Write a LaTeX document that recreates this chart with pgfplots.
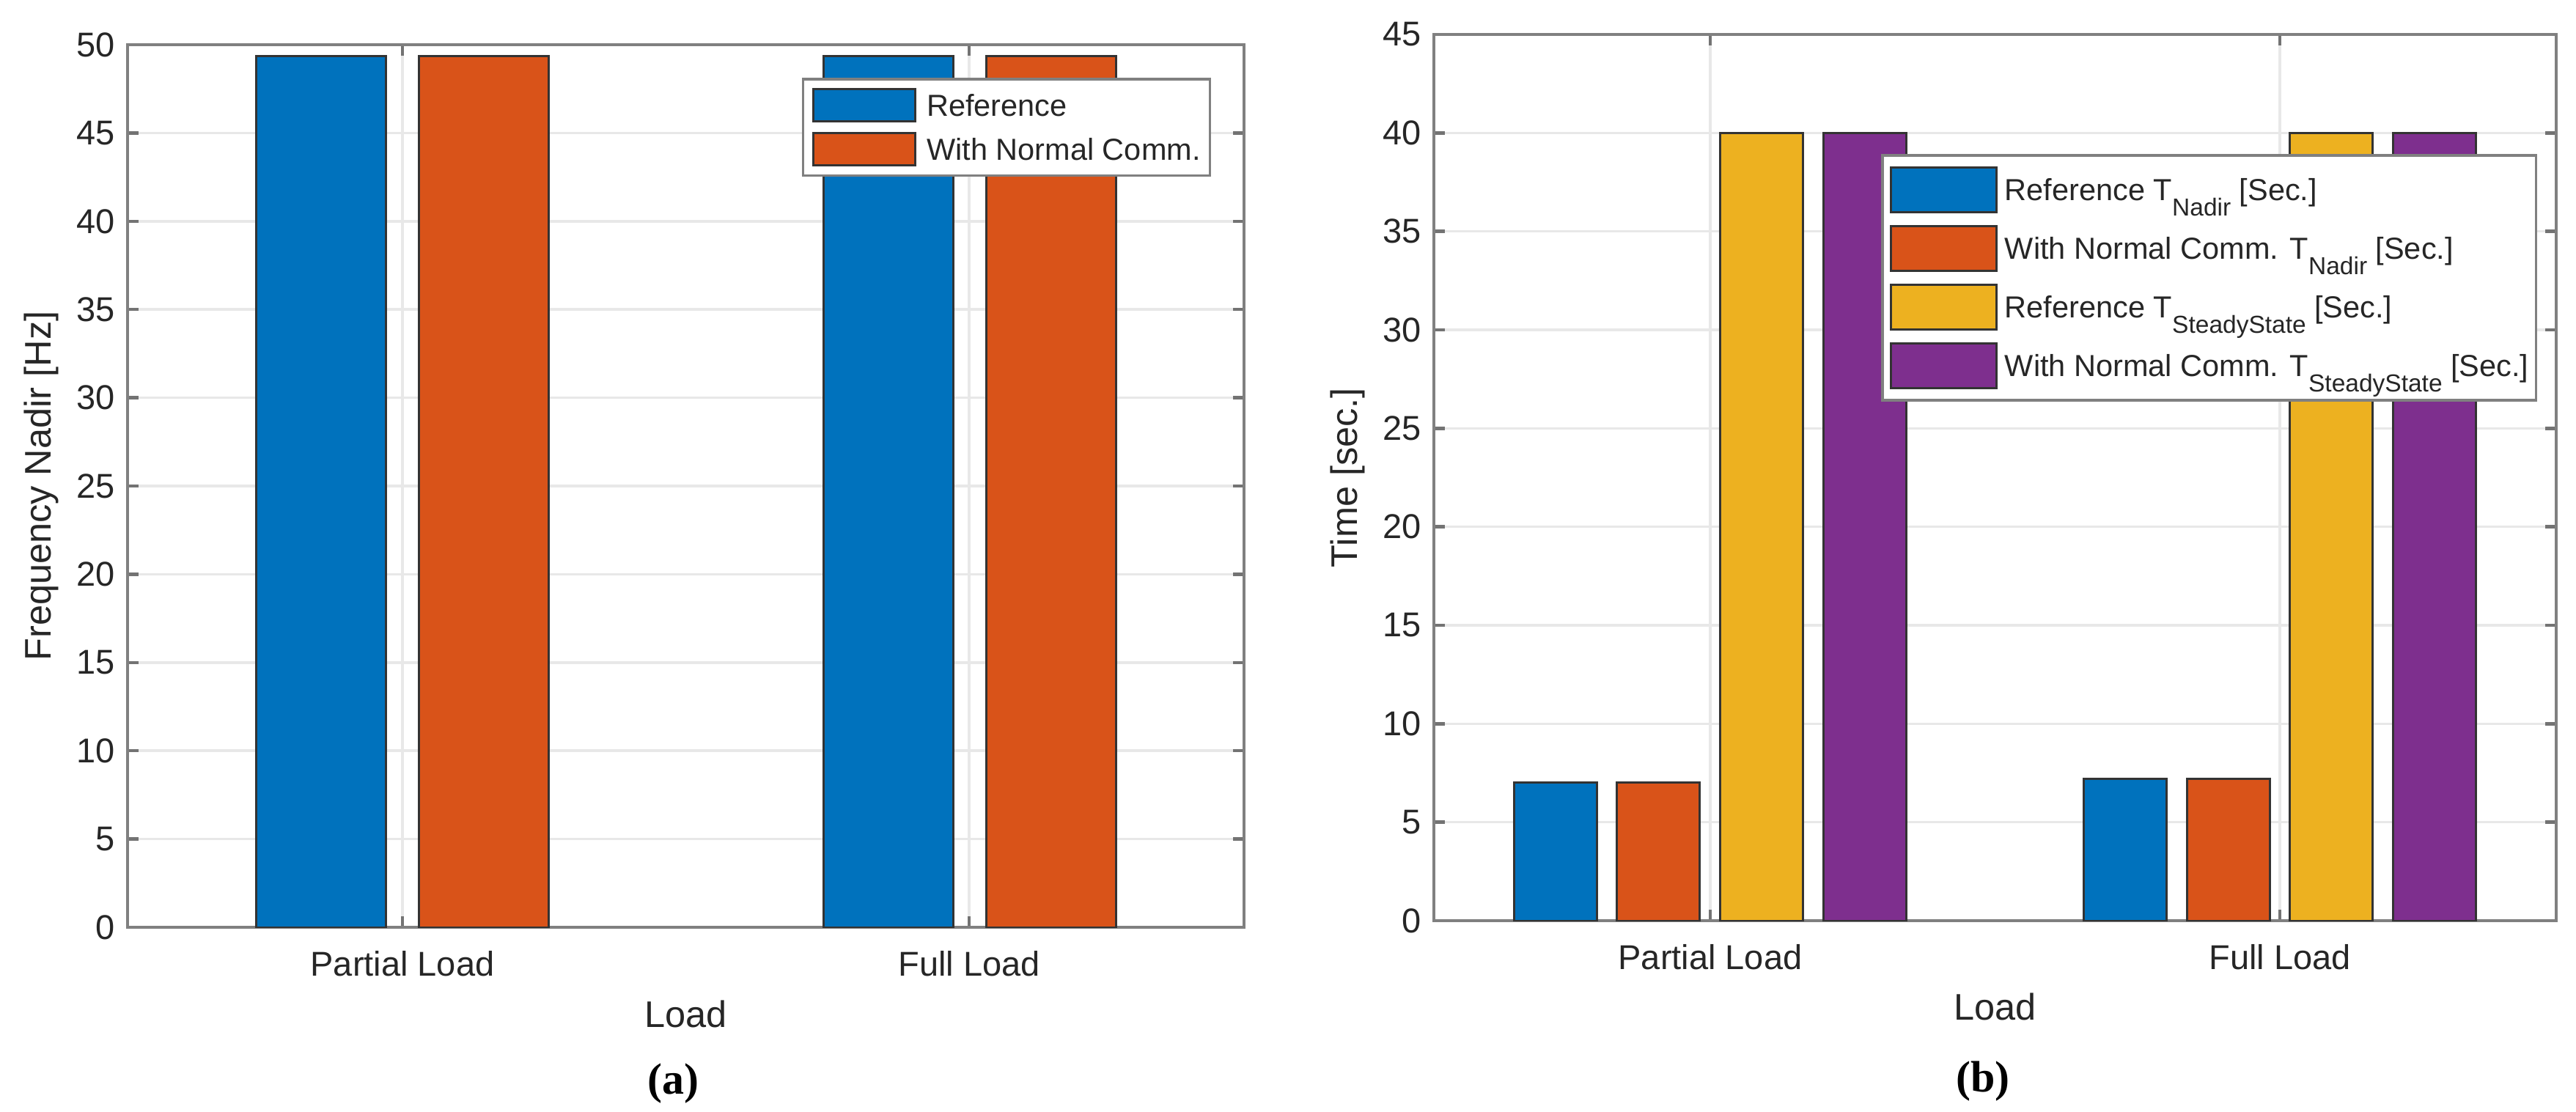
\documentclass[border=0pt]{standalone}
\usepackage{fontspec}
\setmainfont{Liberation Sans}
\newfontfamily\capfont{Liberation Serif}
\usepackage{pgfplots}
\pgfplotsset{compat=1.18}

\definecolor{mblue}{HTML}{0072BD}
\definecolor{morange}{HTML}{D95319}
\definecolor{myellow}{HTML}{EDB120}
\definecolor{mpurple}{HTML}{7E2F8E}
\definecolor{mtext}{HTML}{262626}

\newcommand{\sub}[1]{\raisebox{-4.2pt}{\fontsize{6.7pt}{7pt}\selectfont #1}}

\pgfplotsset{
  mat/.style={
    scale only axis,
    ybar,
    ymin=0,
    xmin=0.515, xmax=2.485,
    xtick={1,2},
    xticklabels={Partial Load, Full Load},
    axis line style={black!50, line width=0.9pt},
    tick style={black!55, line width=0.9pt},
    major tick length=3pt,
    tick align=inside,
    tick pos=both,
    grid=major,
    major grid style={black!9, line width=0.7pt},
    /pgf/number format/assume math mode=true,
    ticklabel style={font=\fontsize{9.4}{11}\selectfont, text=mtext},
    xticklabel style={anchor=base, yshift=-13.3pt},
    label style={font=\fontsize{10.1}{12}\selectfont, text=mtext},
    legend style={draw=black!50, line width=0.7pt, fill=white,
      font=\fontsize{8.3}{10}\selectfont, text=mtext, anchor=north east,
      nodes={inner sep=0pt, text height=5.9pt, text depth=0pt}},
    legend cell align=left,
  },
  swA/.style={legend image code/.code={\draw[#1, line width=0.6pt] (0pt,-4.4pt) rectangle (27.8pt,4.4pt);}},
  swB/.style={legend image code/.code={\draw[#1, line width=0.6pt] (0pt,-6.1pt) rectangle (28.8pt,6.1pt);}},
}

\begin{document}
\begin{tikzpicture}
\useasboundingbox (0,0) rectangle (702.8pt,-303.2pt);

% (a) frequency nadir
\begin{axis}[mat,
  at={(34.8pt,-12.2pt)}, anchor=north west,
  width=304.6pt, height=240.8pt,
  ymax=50, ytick={0,5,...,50},
  bar width=35.4pt,
  xlabel={Load},
  ylabel={Frequency Nadir [Hz]},
  xlabel style={at={(axis description cs:0.5,-0.098)}, anchor=center},
  ylabel style={at={(axis description cs:-0.0775,0.5)}, anchor=center},
  legend style={at={(axis description cs:1,1)}, xshift=-9pt, yshift=-9pt,
    row sep=2.5pt, column sep=2.8pt, inner sep=2.5pt},
]
\addplot[fill=mblue, draw=black!80, line width=0.6pt, bar shift=-22.1pt, swA] coordinates {(1,49.35) (2,49.35)};
\addplot[fill=morange, draw=black!80, line width=0.6pt, bar shift=22.3pt, swA] coordinates {(1,49.35) (2,49.35)};
\legend{Reference, With Normal Comm.}
\end{axis}

% (b) times
\begin{axis}[mat,
  at={(391.2pt,-9.4pt)}, anchor=north west,
  width=306.2pt, height=241.8pt,
  ymax=45, ytick={0,5,...,45},
  bar width=22.6pt,
  xlabel={Load},
  ylabel={Time [sec.]},
  xlabel style={at={(axis description cs:0.5,-0.097)}, anchor=center},
  ylabel style={at={(axis description cs:-0.0771,0.5)}, anchor=center},
  legend style={at={(axis description cs:1,1)}, xshift=-5.2pt, yshift=-32.6pt,
    row sep=3.2pt, column sep=2pt, inner xsep=2pt, inner ysep=3pt},
]
\addplot[fill=mblue, draw=black!80, line width=0.6pt, bar shift=-42.2pt, swB] coordinates {(1,7.0) (2,7.2)};
\addplot[fill=morange, draw=black!80, line width=0.6pt, bar shift=-14.1pt, swB] coordinates {(1,7.0) (2,7.2)};
\addplot[fill=myellow, draw=black!80, line width=0.6pt, bar shift=14.0pt, swB] coordinates {(1,40) (2,40)};
\addplot[fill=mpurple, draw=black!80, line width=0.6pt, bar shift=42.2pt, swB] coordinates {(1,40) (2,40)};
\legend{Reference T\sub{Nadir} [Sec.],
  With Normal Comm. T\sub{Nadir} [Sec.],
  Reference T\sub{SteadyState} [Sec.],
  With Normal Comm. T\sub{SteadyState} [Sec.]\hspace{2.2pt}}
\end{axis}

\node[font=\capfont\bfseries\fontsize{12}{14}\selectfont] at (183.6pt,-295.6pt) {(a)};
\node[font=\capfont\bfseries\fontsize{12}{14}\selectfont] at (541pt,-295pt) {(b)};
\end{tikzpicture}
\end{document}
